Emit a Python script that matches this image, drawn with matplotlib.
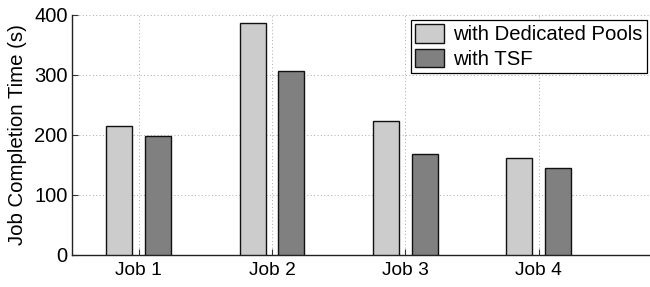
import matplotlib
matplotlib.use("Agg")
import matplotlib.pyplot as plt
import numpy as np

jobs = ["Job 1", "Job 2", "Job 3", "Job 4"]
dedicated = [215, 386, 224, 162]
tsf = [199, 307, 168, 145]
series_labels = ["with Dedicated Pools", "with TSF"]
yticks = [0, 100, 200, 300, 400]

plt.rcParams['font.family'] = ['Liberation Sans', 'DejaVu Sans']

fig = plt.figure(figsize=(6.5, 2.87), dpi=100)
ax = fig.add_axes([72/650, 1-255/287, 1-72/650, (255-15)/287])

x = np.arange(1, len(jobs) + 1)
off = 0.145
w = 0.195
ax.bar(x - off, dedicated, w, color="#cccccc", edgecolor="#111111", linewidth=1.0,
       label=series_labels[0], zorder=3)
ax.bar(x + off, tsf, w, color="#808080", edgecolor="#111111", linewidth=1.0,
       label=series_labels[1], zorder=3)

ax.set_xlim(0.5, 4.835)
ax.set_ylim(0, 400)
ax.set_xticks(x)
ax.set_xticklabels(jobs, fontsize=13.8)
ax.set_yticks(yticks)
ax.set_yticklabels([str(v) for v in yticks], fontsize=14.5)
ax.tick_params(direction="in", length=4, width=0.8, color="#333333", pad=3)
ax.tick_params(axis="x", pad=5)
ax.set_ylabel("Job Completion Time (s)", fontsize=14.7)

for s in ["top", "right"]:
    ax.spines[s].set_visible(False)
for s in ["left", "bottom"]:
    ax.spines[s].set_linewidth(1.0)
    ax.spines[s].set_color("#222222")

ax.grid(True, linestyle=(0, (1, 2.5)), color="#aaaaaa", linewidth=0.7, zorder=0)
ax.set_axisbelow(True)

leg = fig.legend(loc="upper left", bbox_to_anchor=(411/650, 1-20/287), fontsize=14.6,
                 frameon=True, fancybox=False, framealpha=1, edgecolor="black",
                 borderpad=0.22, handlelength=1.4, handleheight=1.0, handletextpad=0.45,
                 labelspacing=0.2, borderaxespad=0)
leg.get_frame().set_linewidth(0.9)
ax.yaxis.set_label_coords(-0.077, 0.5)

fig.savefig("out.png", dpi=100)
